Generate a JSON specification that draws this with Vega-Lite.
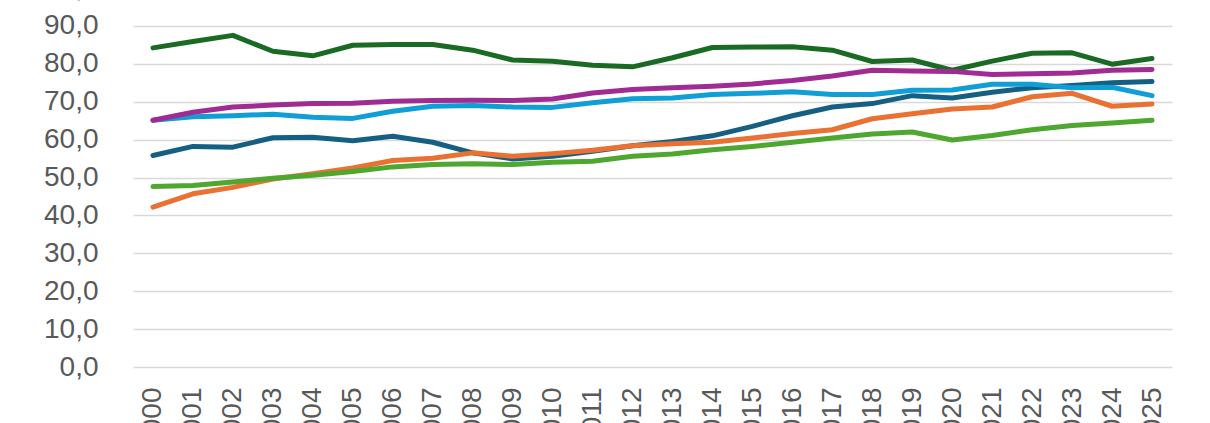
{
  "$schema": "https://vega.github.io/schema/vega-lite/v6.json",
  "autosize": {"type": "none"},
  "width": 1039,
  "height": 379,
  "padding": {"left": 133, "top": -12, "right": 38, "bottom": 56},
  "background": "#FFFFFF",
  "data": {
    "values": [
      {"year": "2000", "series": "Serie 1", "value": 55.8},
      {"year": "2001", "series": "Serie 1", "value": 58.2},
      {"year": "2002", "series": "Serie 1", "value": 58.0},
      {"year": "2003", "series": "Serie 1", "value": 60.5},
      {"year": "2004", "series": "Serie 1", "value": 60.6},
      {"year": "2005", "series": "Serie 1", "value": 59.7},
      {"year": "2006", "series": "Serie 1", "value": 60.9},
      {"year": "2007", "series": "Serie 1", "value": 59.3},
      {"year": "2008", "series": "Serie 1", "value": 56.5},
      {"year": "2009", "series": "Serie 1", "value": 54.9},
      {"year": "2010", "series": "Serie 1", "value": 55.6},
      {"year": "2011", "series": "Serie 1", "value": 56.9},
      {"year": "2012", "series": "Serie 1", "value": 58.4},
      {"year": "2013", "series": "Serie 1", "value": 59.5},
      {"year": "2014", "series": "Serie 1", "value": 61.0},
      {"year": "2015", "series": "Serie 1", "value": 63.5},
      {"year": "2016", "series": "Serie 1", "value": 66.3},
      {"year": "2017", "series": "Serie 1", "value": 68.6},
      {"year": "2018", "series": "Serie 1", "value": 69.5},
      {"year": "2019", "series": "Serie 1", "value": 71.6},
      {"year": "2020", "series": "Serie 1", "value": 71.0},
      {"year": "2021", "series": "Serie 1", "value": 72.5},
      {"year": "2022", "series": "Serie 1", "value": 73.7},
      {"year": "2023", "series": "Serie 1", "value": 74.3},
      {"year": "2024", "series": "Serie 1", "value": 75.0},
      {"year": "2025", "series": "Serie 1", "value": 75.3},

      {"year": "2000", "series": "Serie 2", "value": 42.2},
      {"year": "2001", "series": "Serie 2", "value": 45.7},
      {"year": "2002", "series": "Serie 2", "value": 47.4},
      {"year": "2003", "series": "Serie 2", "value": 49.6},
      {"year": "2004", "series": "Serie 2", "value": 51.0},
      {"year": "2005", "series": "Serie 2", "value": 52.5},
      {"year": "2006", "series": "Serie 2", "value": 54.5},
      {"year": "2007", "series": "Serie 2", "value": 55.1},
      {"year": "2008", "series": "Serie 2", "value": 56.5},
      {"year": "2009", "series": "Serie 2", "value": 55.6},
      {"year": "2010", "series": "Serie 2", "value": 56.3},
      {"year": "2011", "series": "Serie 2", "value": 57.2},
      {"year": "2012", "series": "Serie 2", "value": 58.4},
      {"year": "2013", "series": "Serie 2", "value": 58.9},
      {"year": "2014", "series": "Serie 2", "value": 59.3},
      {"year": "2015", "series": "Serie 2", "value": 60.4},
      {"year": "2016", "series": "Serie 2", "value": 61.6},
      {"year": "2017", "series": "Serie 2", "value": 62.6},
      {"year": "2018", "series": "Serie 2", "value": 65.5},
      {"year": "2019", "series": "Serie 2", "value": 66.8},
      {"year": "2020", "series": "Serie 2", "value": 68.1},
      {"year": "2021", "series": "Serie 2", "value": 68.6},
      {"year": "2022", "series": "Serie 2", "value": 71.3},
      {"year": "2023", "series": "Serie 2", "value": 72.2},
      {"year": "2024", "series": "Serie 2", "value": 68.8},
      {"year": "2025", "series": "Serie 2", "value": 69.4},

      {"year": "2000", "series": "Serie 3", "value": 84.2},
      {"year": "2001", "series": "Serie 3", "value": 85.9},
      {"year": "2002", "series": "Serie 3", "value": 87.5},
      {"year": "2003", "series": "Serie 3", "value": 83.3},
      {"year": "2004", "series": "Serie 3", "value": 82.1},
      {"year": "2005", "series": "Serie 3", "value": 84.9},
      {"year": "2006", "series": "Serie 3", "value": 85.1},
      {"year": "2007", "series": "Serie 3", "value": 85.1},
      {"year": "2008", "series": "Serie 3", "value": 83.6},
      {"year": "2009", "series": "Serie 3", "value": 81.0},
      {"year": "2010", "series": "Serie 3", "value": 80.7},
      {"year": "2011", "series": "Serie 3", "value": 79.6},
      {"year": "2012", "series": "Serie 3", "value": 79.2},
      {"year": "2013", "series": "Serie 3", "value": 81.6},
      {"year": "2014", "series": "Serie 3", "value": 84.3},
      {"year": "2015", "series": "Serie 3", "value": 84.4},
      {"year": "2016", "series": "Serie 3", "value": 84.5},
      {"year": "2017", "series": "Serie 3", "value": 83.6},
      {"year": "2018", "series": "Serie 3", "value": 80.6},
      {"year": "2019", "series": "Serie 3", "value": 81.0},
      {"year": "2020", "series": "Serie 3", "value": 78.3},
      {"year": "2021", "series": "Serie 3", "value": 80.7},
      {"year": "2022", "series": "Serie 3", "value": 82.8},
      {"year": "2023", "series": "Serie 3", "value": 82.9},
      {"year": "2024", "series": "Serie 3", "value": 79.9},
      {"year": "2025", "series": "Serie 3", "value": 81.4},

      {"year": "2000", "series": "Serie 4", "value": 65.1},
      {"year": "2001", "series": "Serie 4", "value": 66.0},
      {"year": "2002", "series": "Serie 4", "value": 66.3},
      {"year": "2003", "series": "Serie 4", "value": 66.7},
      {"year": "2004", "series": "Serie 4", "value": 65.9},
      {"year": "2005", "series": "Serie 4", "value": 65.6},
      {"year": "2006", "series": "Serie 4", "value": 67.5},
      {"year": "2007", "series": "Serie 4", "value": 68.8},
      {"year": "2008", "series": "Serie 4", "value": 69.0},
      {"year": "2009", "series": "Serie 4", "value": 68.6},
      {"year": "2010", "series": "Serie 4", "value": 68.5},
      {"year": "2011", "series": "Serie 4", "value": 69.7},
      {"year": "2012", "series": "Serie 4", "value": 70.8},
      {"year": "2013", "series": "Serie 4", "value": 71.0},
      {"year": "2014", "series": "Serie 4", "value": 71.9},
      {"year": "2015", "series": "Serie 4", "value": 72.2},
      {"year": "2016", "series": "Serie 4", "value": 72.6},
      {"year": "2017", "series": "Serie 4", "value": 71.9},
      {"year": "2018", "series": "Serie 4", "value": 71.9},
      {"year": "2019", "series": "Serie 4", "value": 73.0},
      {"year": "2020", "series": "Serie 4", "value": 73.1},
      {"year": "2021", "series": "Serie 4", "value": 74.6},
      {"year": "2022", "series": "Serie 4", "value": 74.6},
      {"year": "2023", "series": "Serie 4", "value": 73.7},
      {"year": "2024", "series": "Serie 4", "value": 73.8},
      {"year": "2025", "series": "Serie 4", "value": 71.6},

      {"year": "2000", "series": "Serie 5", "value": 65.1},
      {"year": "2001", "series": "Serie 5", "value": 67.2},
      {"year": "2002", "series": "Serie 5", "value": 68.6},
      {"year": "2003", "series": "Serie 5", "value": 69.1},
      {"year": "2004", "series": "Serie 5", "value": 69.5},
      {"year": "2005", "series": "Serie 5", "value": 69.6},
      {"year": "2006", "series": "Serie 5", "value": 70.1},
      {"year": "2007", "series": "Serie 5", "value": 70.3},
      {"year": "2008", "series": "Serie 5", "value": 70.4},
      {"year": "2009", "series": "Serie 5", "value": 70.3},
      {"year": "2010", "series": "Serie 5", "value": 70.7},
      {"year": "2011", "series": "Serie 5", "value": 72.3},
      {"year": "2012", "series": "Serie 5", "value": 73.2},
      {"year": "2013", "series": "Serie 5", "value": 73.7},
      {"year": "2014", "series": "Serie 5", "value": 74.1},
      {"year": "2015", "series": "Serie 5", "value": 74.7},
      {"year": "2016", "series": "Serie 5", "value": 75.6},
      {"year": "2017", "series": "Serie 5", "value": 76.8},
      {"year": "2018", "series": "Serie 5", "value": 78.3},
      {"year": "2019", "series": "Serie 5", "value": 78.1},
      {"year": "2020", "series": "Serie 5", "value": 78.0},
      {"year": "2021", "series": "Serie 5", "value": 77.2},
      {"year": "2022", "series": "Serie 5", "value": 77.4},
      {"year": "2023", "series": "Serie 5", "value": 77.6},
      {"year": "2024", "series": "Serie 5", "value": 78.3},
      {"year": "2025", "series": "Serie 5", "value": 78.5},

      {"year": "2000", "series": "Serie 6", "value": 47.6},
      {"year": "2001", "series": "Serie 6", "value": 47.9},
      {"year": "2002", "series": "Serie 6", "value": 48.8},
      {"year": "2003", "series": "Serie 6", "value": 49.8},
      {"year": "2004", "series": "Serie 6", "value": 50.6},
      {"year": "2005", "series": "Serie 6", "value": 51.6},
      {"year": "2006", "series": "Serie 6", "value": 52.8},
      {"year": "2007", "series": "Serie 6", "value": 53.4},
      {"year": "2008", "series": "Serie 6", "value": 53.6},
      {"year": "2009", "series": "Serie 6", "value": 53.4},
      {"year": "2010", "series": "Serie 6", "value": 54.0},
      {"year": "2011", "series": "Serie 6", "value": 54.3},
      {"year": "2012", "series": "Serie 6", "value": 55.6},
      {"year": "2013", "series": "Serie 6", "value": 56.2},
      {"year": "2014", "series": "Serie 6", "value": 57.3},
      {"year": "2015", "series": "Serie 6", "value": 58.2},
      {"year": "2016", "series": "Serie 6", "value": 59.3},
      {"year": "2017", "series": "Serie 6", "value": 60.4},
      {"year": "2018", "series": "Serie 6", "value": 61.5},
      {"year": "2019", "series": "Serie 6", "value": 62.0},
      {"year": "2020", "series": "Serie 6", "value": 59.9},
      {"year": "2021", "series": "Serie 6", "value": 61.1},
      {"year": "2022", "series": "Serie 6", "value": 62.6},
      {"year": "2023", "series": "Serie 6", "value": 63.7},
      {"year": "2024", "series": "Serie 6", "value": 64.4},
      {"year": "2025", "series": "Serie 6", "value": 65.1}
    ]
  },
  "mark": {"type": "line", "strokeWidth": 5, "strokeCap": "round", "strokeJoin": "round"},
  "encoding": {
    "x": {
      "field": "year",
      "type": "ordinal",
      "scale": {"type": "point", "padding": 0.5},
      "axis": {
        "title": null,
        "labelAngle": 270,
        "labelAlign": "right",
        "labelBaseline": "middle",
        "labelPadding": 20,
        "ticks": false,
        "domain": false,
        "grid": false
      }
    },
    "y": {
      "field": "value",
      "type": "quantitative",
      "scale": {"domain": [0, 100], "nice": false},
      "axis": {
        "title": null,
        "values": [0, 10, 20, 30, 40, 50, 60, 70, 80, 90, 100],
        "format": ".1f",
        "labelPadding": 35,
        "ticks": false,
        "domain": false,
        "grid": true
      }
    },
    "color": {
      "field": "series",
      "type": "nominal",
      "scale": {
        "domain": ["Serie 1", "Serie 2", "Serie 3", "Serie 4", "Serie 5", "Serie 6"],
        "range": ["#156082", "#E97132", "#196B24", "#0F9ED5", "#A02B93", "#4EA72E"]
      },
      "legend": null
    }
  },
  "config": {
    "locale": {
      "number": {"decimal": ",", "thousands": ".", "grouping": [3], "currency": ["", " €"]}
    },
    "view": {"stroke": null},
    "axis": {
      "labelFont": "Liberation Sans",
      "labelFontSize": 28,
      "labelColor": "#595959",
      "gridColor": "#D9D9D9",
      "gridWidth": 1.3
    }
  }
}
